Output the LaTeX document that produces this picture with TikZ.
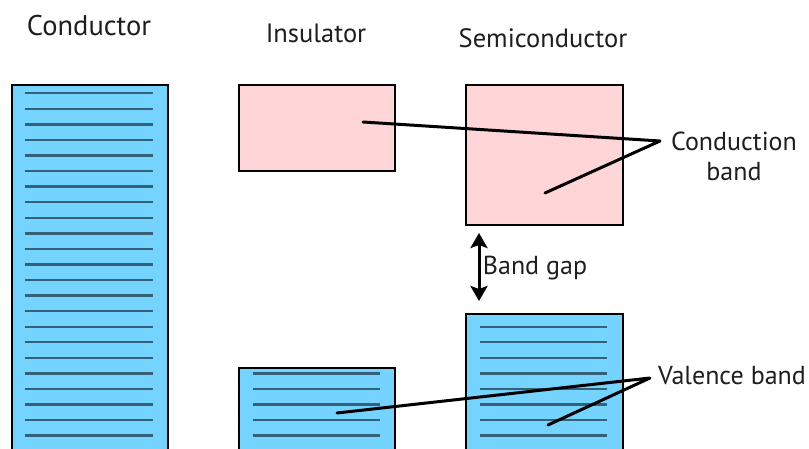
\documentclass[tikz,border=0pt]{standalone}
\usepackage{fontspec}
\setmainfont{PT Sans}
\usetikzlibrary{arrows.meta}
\definecolor{bandblue}{RGB}{117,212,255}
\definecolor{bandpink}{RGB}{255,213,216}
\definecolor{levelline}{RGB}{52,96,120}
\definecolor{ink}{RGB}{30,30,30}
\tikzset{
  bandbox/.style={draw=black, line width=2.2pt, anchor=north west, inner sep=0pt},
  level/.style={draw=levelline, line width=2.4pt},
  pointer/.style={draw=black, line width=3pt, line cap=round, line join=round},
  title/.style={font=\fontsize{26.5}{30}\selectfont, text=ink},
  label/.style={font=\fontsize{26}{30}\selectfont, text=ink},
}
\begin{document}
\begin{tikzpicture}[x=1pt, y=-1pt]
  \clip (0,0) rectangle (809,449);
  \fill[white] (0,0) rectangle (809,449);

  % titles
  \node[title, font=\fontsize{28.5}{30}\selectfont] (tcond) at (89,26) {Conductor};
  \node[title] (tins)  at (316,33) {Insulator};
  \node[title] (tsemi) at (543,38) {Semiconductor};

  % conductor: one continuous band
  \node[bandbox, fill=bandblue, minimum width=156pt, minimum height=390pt] (cond) at (11,84) {};
  \foreach \k in {0,...,22} {
    \draw[level] (25,93.3+15.56*\k) -- (153,93.3+15.56*\k);
  }

  % insulator bands
  \node[bandbox, fill=bandpink, minimum width=156pt, minimum height=86pt] (insc) at (238,84) {};
  \node[bandbox, fill=bandblue, minimum width=156pt, minimum height=100pt] (insv) at (238,367) {};
  \foreach \k in {18,...,22} {
    \draw[level] (253,93.3+15.56*\k) -- (380,93.3+15.56*\k);
  }

  % semiconductor bands
  \node[bandbox, fill=bandpink, minimum width=157pt, minimum height=140pt] (semc) at (465,84) {};
  \node[bandbox, fill=bandblue, minimum width=157pt, minimum height=160pt] (semv) at (465,313) {};
  \foreach \k in {15,...,22} {
    \draw[level] (480,93.3+15.56*\k) -- (607,93.3+15.56*\k);
  }

  % band gap arrow
  \coordinate (gaptop) at (479,233);
  \coordinate (gapbot) at (479,301);
  \draw[line width=3pt, {Stealth[length=15pt,width=17pt,inset=3pt]}-{Stealth[length=15pt,width=17pt,inset=3pt]}] (gaptop) -- (gapbot);
  \node[label] (gap) at (535,268) {Band gap};

  % labels with pointers
  \coordinate (cbtip) at (660,141);
  \coordinate (cbins) at (363,122);
  \coordinate (cbsemi) at (545,193);
  \node[label, align=center] (cblabel) at (734,156) {Conduction\\band};
  \draw[pointer] (cbins) -- (cbtip) -- (cbsemi);

  \coordinate (vbtip) at (650,378);
  \coordinate (vbins) at (337,413);
  \coordinate (vbsemi) at (548,425);
  \node[label] (vblabel) at (732,376) {Valence band};
  \draw[pointer] (vbins) -- (vbtip) -- (vbsemi);
\end{tikzpicture}
\end{document}
